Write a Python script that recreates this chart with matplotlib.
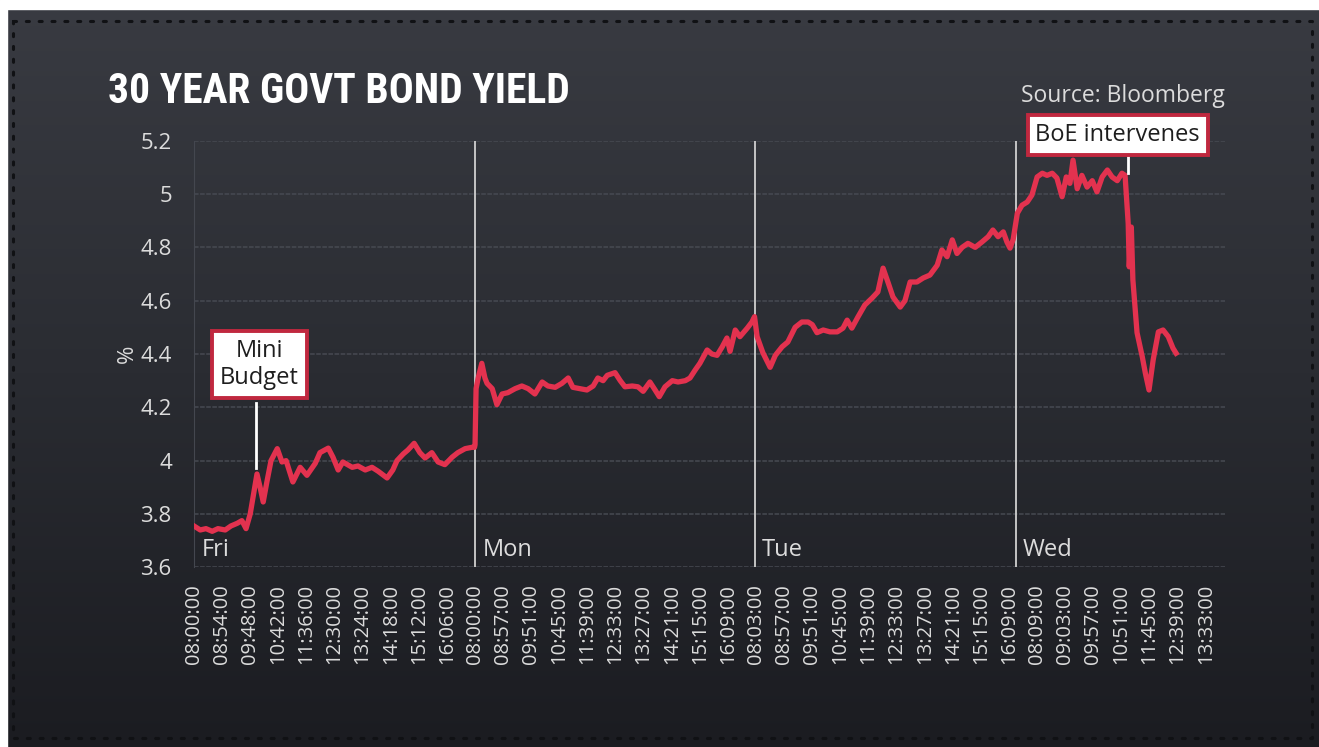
import matplotlib.pyplot as plt
import numpy as np

# 30 year gilt yield (x = minute bar index, 54 bars per tick)
bar_idx = [0, 12, 23, 35, 46, 60, 71, 83, 92, 100, 108, 115, 121, 127, 133, 140, 148,
           160, 169, 177, 190, 204, 217, 233, 242, 258, 267, 277, 286, 304, 315, 329,
           342, 354, 371, 382, 390, 402, 411, 423, 434, 444, 457, 469, 482, 496, 507,
           521, 534, 539,
           540, 542, 546, 553, 559, 563, 573, 582, 592, 603, 617, 630, 642, 655, 669,
           680, 694, 707, 719, 728, 742, 755, 767, 776, 786, 794, 809, 819, 828, 842,
           853, 863, 876, 886, 894, 905, 919, 930, 944, 953, 963, 972, 986, 995, 1005,
           1015, 1024, 1030, 1040, 1049, 1063, 1072, 1077,
           1082, 1093, 1107, 1117, 1130, 1141, 1155, 1168, 1180, 1188, 1197, 1209, 1222,
           1236, 1247, 1255, 1264, 1276, 1289, 1303, 1314, 1324, 1334, 1343, 1357, 1366,
           1376, 1389, 1401, 1414, 1428, 1437, 1447, 1457, 1466, 1476, 1487, 1501, 1514,
           1526, 1535, 1545, 1555, 1562, 1568, 1574,
           1582, 1591, 1601, 1610, 1620, 1630, 1639, 1649, 1658, 1668, 1676, 1683, 1689,
           1697, 1706, 1716, 1726, 1735, 1745, 1755, 1764, 1774, 1783, 1789, 1795, 1797,
           1801, 1804, 1812, 1822, 1828, 1835, 1843, 1853, 1862, 1872, 1881, 1887]
yield_pct = [3.755, 3.74, 3.745, 3.735, 3.745, 3.74, 3.755, 3.765, 3.775, 3.745, 3.80,
             3.88, 3.95, 3.90, 3.845, 3.92, 4.00, 4.045, 3.995, 4.00, 3.92, 3.975, 3.945,
             3.99, 4.03, 4.047, 4.013, 3.965, 3.995, 3.975, 3.98, 3.965, 3.975, 3.96,
             3.935, 3.965, 4.00, 4.025, 4.04, 4.065, 4.03, 4.01, 4.03, 3.995, 3.985,
             4.013, 4.03, 4.045, 4.05, 4.05,
             4.06, 4.27, 4.31, 4.365, 4.31, 4.29, 4.27, 4.21, 4.25, 4.255, 4.27, 4.28,
             4.27, 4.25, 4.295, 4.28, 4.275, 4.29, 4.31, 4.275, 4.27, 4.265, 4.28, 4.31,
             4.30, 4.32, 4.33, 4.30, 4.277, 4.28, 4.277, 4.26, 4.295, 4.265, 4.24, 4.277,
             4.30, 4.295, 4.30, 4.31, 4.34, 4.365, 4.415, 4.40, 4.395, 4.427, 4.46, 4.41,
             4.49, 4.465, 4.497, 4.52, 4.54,
             4.465, 4.405, 4.35, 4.395, 4.427, 4.445, 4.50, 4.52, 4.52, 4.51, 4.48, 4.49,
             4.483, 4.483, 4.497, 4.527, 4.497, 4.54, 4.584, 4.61, 4.633, 4.722, 4.666,
             4.614, 4.576, 4.60, 4.67, 4.67, 4.685, 4.696, 4.733, 4.79, 4.765, 4.828,
             4.777, 4.80, 4.815, 4.80, 4.82, 4.84, 4.865, 4.84, 4.858, 4.82, 4.797, 4.83,
             4.928, 4.958, 4.97, 4.996, 5.064, 5.078, 5.07, 5.078, 5.06, 4.99, 5.064,
             5.04, 5.127, 5.02, 5.07, 5.026, 5.05, 5.008, 5.064, 5.09, 5.064, 5.05, 5.078,
             5.07, 4.89, 4.727, 4.876, 4.678, 4.48, 4.39, 4.328, 4.265, 4.378, 4.483,
             4.49, 4.465, 4.422, 4.403]

tick_labels = ['08:00:00', '08:54:00', '09:48:00', '10:42:00', '11:36:00', '12:30:00',
               '13:24:00', '14:18:00', '15:12:00', '16:06:00',
               '08:00:00', '08:57:00', '09:51:00', '10:45:00', '11:39:00', '12:33:00',
               '13:27:00', '14:21:00', '15:15:00', '16:09:00',
               '08:03:00', '08:57:00', '09:51:00', '10:45:00', '11:39:00', '12:33:00',
               '13:27:00', '14:21:00', '15:15:00', '16:09:00',
               '08:09:00', '09:03:00', '09:57:00', '10:51:00', '11:45:00', '12:39:00',
               '13:33:00']
day_names = ['Fri', 'Mon', 'Tue', 'Wed']
day_start = [0, 540, 1077, 1579]
y_ticks = [3.6, 3.8, 4.0, 4.2, 4.4, 4.6, 4.8, 5.0, 5.2]
y_tick_text = ['3.6', '3.8', '4', '4.2', '4.4', '4.6', '4.8', '5', '5.2']

# annotations: (label, x of text, y of text, x of stem, stem bottom, stem top)
mini_budget = ('Mini\nBudget', 126, 4.36, 119, 3.972, 4.216)
boe = ('BoE intervenes', 1775, 5.222, 1795, 5.079, 5.143)

RED = '#e3324f'
TXT = '#dcdcdc'
BOX_EDGE = '#c0283f'
FONT = ['Open Sans', 'DejaVu Sans']

plt.rcParams['font.family'] = FONT

W, H = 1319, 747
fig = plt.figure(figsize=(W / 100, H / 100), dpi=100)

###########################################
# background panel with gradient and dotted frame
bg = fig.add_axes([0, 0, 1, 1])
bg.set_xlim(0, W)
bg.set_ylim(H, 0)
bg.axis('off')
grad = np.linspace(0, 1, 256).reshape(-1, 1)
bg.imshow(grad, extent=[0, W, H, 0], aspect='auto', zorder=0,
          cmap=plt.matplotlib.colors.LinearSegmentedColormap.from_list(
              'bg', ['#393b42', '#2a2c32', '#1b1c21']))
# white margins top/left
bg.add_patch(plt.Rectangle((0, 0), W, 9, color='white', zorder=1))
bg.add_patch(plt.Rectangle((0, 0), 7, H, color='white', zorder=1))
# dotted frame
frame_x = [13, 1312, 1312, 13, 13]
frame_y = [21, 21, 738, 738, 21]
bg.plot(frame_x, frame_y, color='#101114', lw=2.2, ls=(0, (1, 3.2)),
        dash_capstyle='round', zorder=2)

###########################################
# main chart
ax = fig.add_axes([194 / W, 1 - 567.3 / H, (1225 - 194) / W, (567.3 - 140.7) / H])
ax.set_facecolor('none')
ax.set_xlim(0, 1981)
ax.set_ylim(3.6, 5.2)

ax.plot(bar_idx, yield_pct, color=RED, lw=3.8, solid_joinstyle='round', zorder=4)

# day separators and names
for name, start in zip(day_names, day_start):
    if start > 0:
        ax.axvline(start, color='#d0d0d0', lw=1.3, zorder=3)
    ax.text(start + 14, 3.62, name, color=TXT, fontsize=17, ha='left', va='bottom')

ax.set_yticks(y_ticks)
ax.set_yticklabels(y_tick_text)
ax.set_xticks(np.arange(len(tick_labels)) * 54)
ax.set_xticklabels(tick_labels, rotation=90, va='top', ha='center')
ax.tick_params(axis='both', length=0, colors=TXT)
ax.tick_params(axis='y', labelsize=16, pad=16)
ax.tick_params(axis='x', labelsize=14.5, pad=12)
ax.yaxis.grid(True, color='#474a52', lw=1.1, ls=(0, (3, 1)))
ax.set_ylabel('%', color=TXT, fontsize=16, labelpad=2)
for side in ['top', 'right', 'bottom']:
    ax.spines[side].set_visible(False)
ax.spines['left'].set_color('#44474f')

# annotation boxes with stems
for label, tx, ty, sx, s0, s1 in [mini_budget, boe]:
    ax.plot([sx, sx], [s0, s1], color='white', lw=2, clip_on=False, zorder=5)
    ax.text(tx, ty, label, ha='center', va='center', fontsize=17, color='#1e1e1e',
            linespacing=1.2, zorder=6, clip_on=False,
            bbox=dict(boxstyle='square,pad=0.33', fc='white', ec=BOX_EDGE, lw=2.8))

###########################################
# title and source
title = fig.text(108 / W, 1 - 103 / H, '30 YEAR GOVT BOND YIELD', color='white',
                 fontsize=34, fontweight='heavy', fontstretch='condensed',
                 family=['Roboto Condensed', 'Open Sans Condensed', 'DejaVu Sans'],
                 ha='left', va='baseline')
fig.text(1225 / W, 1 - 102 / H, 'Source: Bloomberg', color=TXT, fontsize=16.5,
         ha='right', va='baseline')

# squeeze the title to the width it has in the original (about 462 px)
fig.canvas.draw()
tw = title.get_window_extent().width
title.set_fontsize(title.get_fontsize() * 462 / tw)

fig.savefig('out.png', dpi=100, facecolor=fig.get_facecolor())
print("Saved out.png")
